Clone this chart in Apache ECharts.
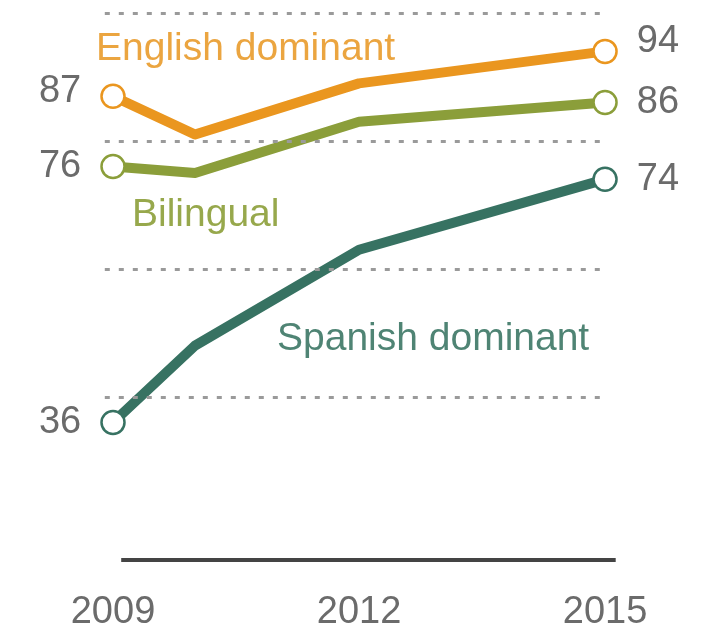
<!DOCTYPE html>
<html>
<head>
<meta charset="utf-8">
<script src="https://cdn.jsdelivr.net/npm/echarts@6/dist/echarts.min.js"></script>
<style>
  html, body { margin: 0; padding: 0; background: #fff; }
  #chart { width: 718px; height: 628px; }
</style>
</head>
<body>
<div id="chart"></div>
<script>
var years = [2009, 2010, 2012, 2015];
var englishDominant = [87, 81, 89, 94];
var bilingual = [76, 75, 83, 86];
var spanishDominant = [36, 48, 63, 74];
var gridValues = [40, 60, 80, 100];
var xTickLabels = [2009, 2012, 2015];

var FONT = '"Liberation Sans", Arial, sans-serif';

// end labels that sit a bit higher than their point
var labelShift = { 'English dominant': [-5, -10] };

function makeSeries(name, values, color) {
    var last = values.length - 1;
    var shift = labelShift[name] || [0, 0];
    var data = years.map(function (y, i) {
        var item = { value: [y, values[i]] };
        if (i === 0 || i === last) {
            item.label = {
                show: true,
                position: i === 0 ? 'left' : 'right',
                offset: [0, i === 0 ? shift[0] : shift[1]]
            };
        }
        return item;
    });
    return {
        name: name,
        type: 'line',
        data: data,
        z: 3,
        symbol: function (v, p) {
            return (p.dataIndex === 0 || p.dataIndex === last) ? 'circle' : 'none';
        },
        symbolSize: 23,
        lineStyle: { color: color, width: 10, join: 'round', cap: 'round' },
        itemStyle: { color: '#fff', borderColor: color, borderWidth: 2.5 },
        label: {
            show: false,
            distance: 19,
            fontSize: 38,
            fontFamily: FONT,
            color: '#6b6b6b',
            formatter: function (p) { return p.value[1]; }
        },
        emphasis: { disabled: true }
    };
}

// invisible carrier series for the dotted guides and the baseline
var guideSeries = {
    type: 'line',
    data: [[years[0], 14.5]],
    z: 1,
    silent: true,
    symbol: 'none',
    lineStyle: { opacity: 0 },
    markLine: {
        silent: true,
        symbol: ['none', 'none'],
        label: { show: false },
        emphasis: { disabled: true },
        data: gridValues.map(function (v) {
            return [
                { coord: [2008.9, v], lineStyle: { color: '#9a9a9a', width: 3, type: [5, 9] } },
                { coord: [2015, v] }
            ];
        }).concat([[
            { coord: [2009.1, 14.5], lineStyle: { color: '#444', width: 4, type: 'solid' } },
            { coord: [2015.13, 14.5] }
        ]])
    }
};

var option = {
    animation: false,
    grid: { left: 104.8, right: 102.3, top: 13, bottom: 68, outerBoundsMode: 'none', containLabel: false },
    xAxis: {
        type: 'value',
        min: 2008.9,
        max: 2015.13,
        axisLine: { show: false },
        axisTick: { show: false },
        splitLine: { show: false },
        axisLabel: {
            customValues: xTickLabels,
            margin: 34,
            fontSize: 38,
            fontFamily: FONT,
            color: '#6b6b6b',
            formatter: function (v) { return String(v); }
        }
    },
    yAxis: {
        type: 'value',
        min: 14.5,
        max: 100,
        show: false
    },
    graphic: [
        { type: 'text', left: 96, top: 30, style: { text: 'English dominant', font: '39px ' + FONT, fill: '#eba540' } },
        { type: 'text', left: 132, top: 196, style: { text: 'Bilingual', font: '39px ' + FONT, fill: '#97a84c' } },
        { type: 'text', left: 277, top: 320, style: { text: 'Spanish dominant', font: '39px ' + FONT, fill: '#4f8474' } }
    ],
    series: [
        guideSeries,
        makeSeries('Spanish dominant', spanishDominant, '#377262'),
        makeSeries('Bilingual', bilingual, '#8b9e3a'),
        makeSeries('English dominant', englishDominant, '#ea961f')
    ]
};

var chart = echarts.init(document.getElementById('chart'));
chart.setOption(option);
</script>
</body>
</html>
